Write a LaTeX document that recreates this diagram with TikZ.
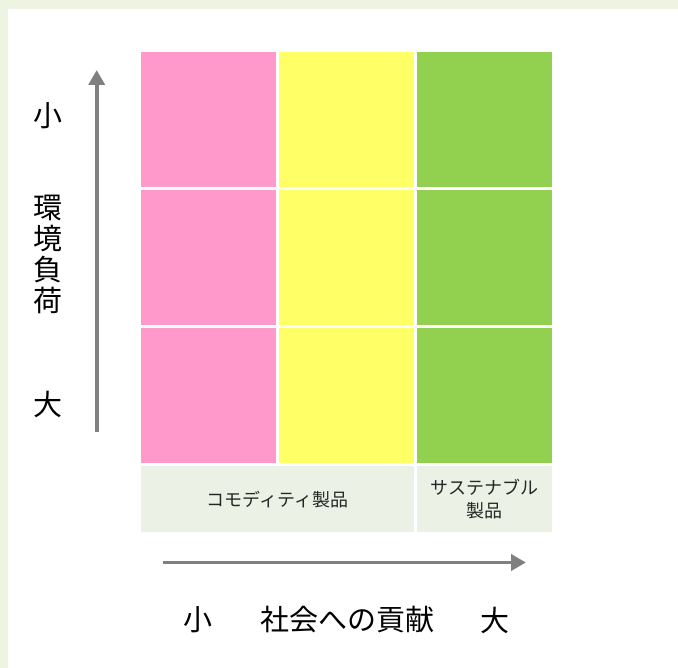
\documentclass[tikz,border=0pt]{standalone}
\usepackage{fontspec}
\newfontfamily\jp{Noto Sans CJK JP}
\usetikzlibrary{arrows.meta}
\definecolor{outerbg}{HTML}{EEF4E2}
\definecolor{cpink}{HTML}{FF99CC}
\definecolor{cyellow}{HTML}{FFFF66}
\definecolor{cgreen}{HTML}{92D050}
\definecolor{clabel}{HTML}{EBF1E4}
\definecolor{cgray}{HTML}{808080}
\tikzset{
  cell/.style={anchor=north west, inner sep=0pt, minimum width=135pt, minimum height=135pt, draw=none},
  lab/.style={anchor=north west, inner sep=0pt, minimum height=66pt, fill=clabel, font=\jp\fontsize{18}{24}\selectfont, align=center, text=black!85},
  bigtxt/.style={font=\jp\fontsize{29}{31}\selectfont, inner sep=0pt, text=black},
  axis/.style={draw=cgray, line width=3.8pt, -{Triangle[length=15pt,width=16pt]}}
}
\begin{document}
\begin{tikzpicture}[x=1pt,y=-1pt]
\useasboundingbox (0,0) rectangle (678,668);
\fill[outerbg] (0,0) rectangle (678,668);
\fill[white] (8,9) rectangle (678,668);
% grid cells
\node[cell, fill=cpink]   (p1) at (141,52) {};
\node[cell, fill=cyellow] (y1) at (279,52) {};
\node[cell, fill=cgreen]  (g1) at (417,52) {};
\node[cell, fill=cpink]   (p2) at (141,190) {};
\node[cell, fill=cyellow] (y2) at (279,190) {};
\node[cell, fill=cgreen]  (g2) at (417,190) {};
\node[cell, fill=cpink]   (p3) at (141,328) {};
\node[cell, fill=cyellow] (y3) at (279,328) {};
\node[cell, fill=cgreen]  (g3) at (417,328) {};
% labels
\node[lab, minimum width=273pt] (com) at (141,466) {コモディティ製品};
\node[lab, minimum width=135pt] (sus) at (417,466) {サステナブル\\[-1pt]製品};
% axes
\coordinate (vb) at (96.7,432);
\coordinate (vt) at (96.7,70);
\draw[axis] (vb) -- (vt);
\coordinate (hl) at (163,562.5);
\coordinate (hr) at (526,562.5);
\draw[axis] (hl) -- (hr);
% vertical axis texts
\node[bigtxt] (vsmall) at (47.5,116) {小};
\node[bigtxt, align=center] (vlab) at (47.5,254.5) {環\\境\\負\\荷};
\node[bigtxt] (vbig) at (47.5,404) {大};
% horizontal axis texts
\node[bigtxt] (hsmall) at (197.5,620) {小};
\node[bigtxt] (hlab) at (347.5,620) {社会への貢献};
\node[bigtxt] (hbig) at (495,620) {大};
\end{tikzpicture}
\end{document}
